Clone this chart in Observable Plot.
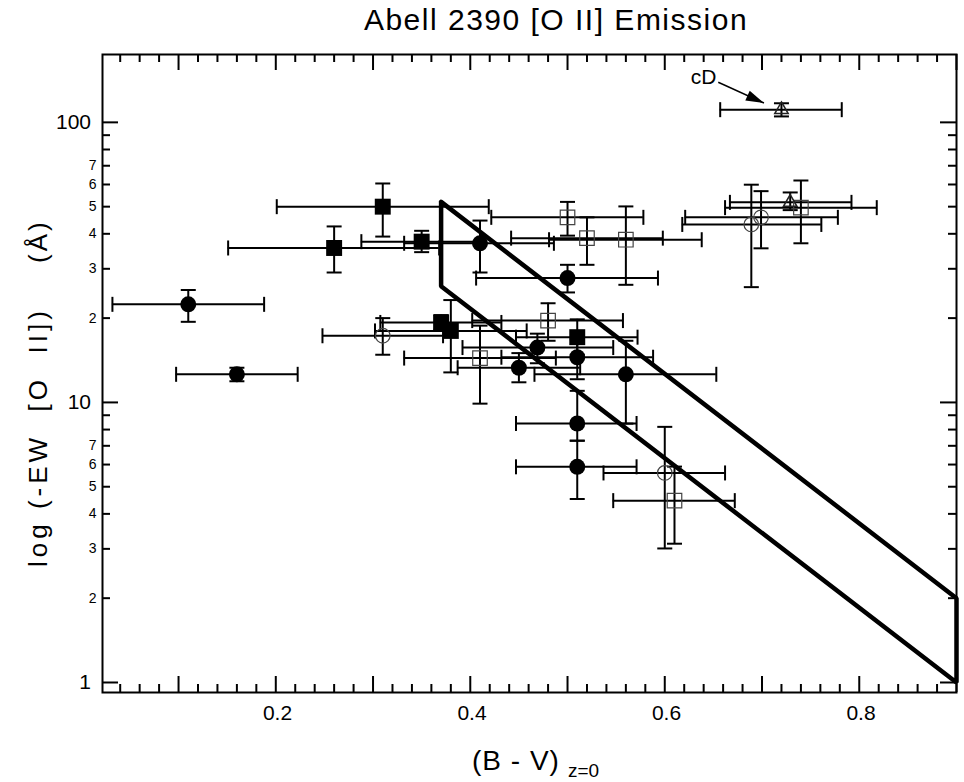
<!DOCTYPE html>
<html><head><meta charset="utf-8">
<script src="https://cdn.jsdelivr.net/npm/d3@7"></script>
<script src="https://cdn.jsdelivr.net/npm/@observablehq/plot@0.6"></script>
<style>body{margin:0;background:#fff;} svg{display:block}</style>
</head><body><div id="chart"></div>
<script>
// ---------- data ----------
// filled circles
const fcX   = [0.11, 0.16, 0.41, 0.50, 0.469, 0.51, 0.45, 0.56, 0.51, 0.51];
const fcY   = [22.4, 12.6, 37.0, 27.8, 15.7, 14.5, 13.3, 12.6, 8.41, 5.89];
const fcXlo = [0.032, 0.0975, 0.332, 0.406, 0.392, 0.432, 0.387, 0.466, 0.447, 0.447];
const fcXhi = [0.188, 0.2225, 0.486, 0.593, 0.547, 0.588, 0.513, 0.653, 0.571, 0.571];
const fcYlo = [19.4, 11.9, 29.1, 24.7, 13.8, 12.1, 11.8, 8.4, 7.3, 4.52];
const fcYhi = [25.2, 13.3, 44.6, 31.0, 17.6, 16.8, 15.0, 16.6, 11.0, 7.3];
// filled squares
const fsX   = [0.26, 0.31, 0.35, 0.37, 0.38, 0.51];
const fsY   = [35.6, 50.0, 37.5, 19.3, 18.0, 17.1];
const fsXlo = [0.151, 0.201, 0.288, 0.3075, 0.302, 0.447];
const fsXhi = [0.368, 0.419, 0.412, 0.432, 0.458, 0.572];
const fsYlo = [29.1, 39.1, 34.4, 18.2, 12.8, 14.8];
const fsYhi = [42.5, 60.5, 41.0, 20.5, 23.2, 19.8];
// open squares
const osX   = [0.50, 0.52, 0.56, 0.48, 0.41, 0.61, 0.74];
const osY   = [45.8, 38.6, 38.1, 19.6, 14.4, 4.46, 49.6];
const osXlo = [0.4216, 0.442, 0.481, 0.402, 0.332, 0.547, 0.662];
const osXhi = [0.578, 0.598, 0.638, 0.557, 0.488, 0.672, 0.818];
const osYlo = [39.4, 31.0, 26.3, 16.6, 9.9, 3.13, 37.0];
const osYhi = [52.0, 45.8, 50.1, 22.6, 18.8, 5.9, 62.0];
// open circles
const ocX   = [0.31, 0.60, 0.689, 0.699];
const ocY   = [17.3, 5.6, 43.2, 45.8];
const ocXlo = [0.248, 0.537, 0.618, 0.621];
const ocXhi = [0.372, 0.662, 0.761, 0.778];
const ocYlo = [14.8, 3.01, 25.8, 35.5];
const ocYhi = [20.0, 8.18, 59.9, 56.8];
// open triangles (second one is the cD galaxy)
const otX   = [0.729, 0.72];
const otY   = [51.8, 111];
const otXlo = [0.667, 0.657];
const otXhi = [0.792, 0.782];
const otYlo = [48.6, 105];
const otYhi = [56.2, 117];
// model region outline
const polyX = [0.37, 0.90, 0.90, 0.37, 0.37];
const polyY = [52, 2, 1, 26, 52];
// cD annotation
const cdText = ["cD"];
const cdTextX = [0.640];
const cdTextY = [145];
const cdArrowX1 = [0.655], cdArrowY1 = [139];
const cdArrowX2 = [0.702], cdArrowY2 = [117.3];
// ticks
const xMajor = [0.1, 0.2, 0.3, 0.4, 0.5, 0.6, 0.7, 0.8, 0.9];
const xMinor = [0.04,0.06,0.08,0.12,0.14,0.16,0.18,0.22,0.24,0.26,0.28,0.32,0.34,0.36,0.38,0.42,0.44,0.46,0.48,0.52,0.54,0.56,0.58,0.62,0.64,0.66,0.68,0.72,0.74,0.76,0.78,0.82,0.84,0.86,0.88];
const xLabelVals = [0.2, 0.4, 0.6, 0.8];
const xLabelText = ["0.2", "0.4", "0.6", "0.8"];
const yMajor = [1, 10, 100];
const yMinor = [2,3,4,5,6,7,8,9,20,30,40,50,60,70,80,90];
const yBigVals = [1, 10, 100];
const yBigText = ["1", "10", "100"];
const ySmallVals = [2,3,4,5,6,7,20,30,40,50,60,70];
const ySmallText = ["2","3","4","5","6","7","2","3","4","5","6","7"];

// ---------- build ----------
function rows(X, Y, XL, XH, YL, YH) {
  return X.map((x, i) => ({x, y: Y[i], xlo: XL[i], xhi: XH[i], ylo: YL[i], yhi: YH[i]}));
}
const fc = rows(fcX, fcY, fcXlo, fcXhi, fcYlo, fcYhi);
const fs = rows(fsX, fsY, fsXlo, fsXhi, fsYlo, fsYhi);
const os = rows(osX, osY, osXlo, osXhi, osYlo, osYhi);
const oc = rows(ocX, ocY, ocXlo, ocXhi, ocYlo, ocYhi);
const ot = rows(otX, otY, otXlo, otXhi, otYlo, otYhi);
const all = [...fc, ...fs, ...os, ...oc, ...ot];
const poly = polyX.map((x, i) => ({x, y: polyY[i]}));

const W = 964, H = 782, mL = 102, mR = 8, mT = 54, mB = 90;
const fW = W - mL - mR, fH = H - mT - mB;

const vcap = {draw(ctx, size) { const r = Math.sqrt(size / Math.PI); ctx.moveTo(0, -r); ctx.lineTo(0, r); }};
const hcap = {draw(ctx, size) { const r = Math.sqrt(size / Math.PI); ctx.moveTo(-r, 0); ctx.lineTo(r, 0); }};
const head = {draw(ctx, size) { const r = Math.sqrt(size / Math.PI); ctx.moveTo(0, 0); ctx.lineTo(-2 * r, -0.6 * r); ctx.lineTo(-2 * r, 0.6 * r); ctx.closePath(); }};

const LS_TICK = 3.5;
const font = "'Liberation Sans', Arial, Helvetica, sans-serif";

const svg = Plot.plot({
  width: W, height: H,
  marginLeft: mL, marginRight: mR, marginTop: mT, marginBottom: mB,
  style: {fontFamily: font, background: "white", overflow: "visible"},
  x: {domain: [0.0218, 0.9], axis: null},
  y: {type: "log", domain: [0.921, 174.7], axis: null},
  marks: [
    // axis ticks (inward)
    Plot.tickX(xMinor, {x: d => d, insetTop: fH - 8, strokeWidth: 2}),
    Plot.tickX(xMinor, {x: d => d, insetBottom: fH - 8, strokeWidth: 2}),
    Plot.tickX(xMajor, {x: d => d, insetTop: fH - 16, strokeWidth: 2}),
    Plot.tickX(xMajor, {x: d => d, insetBottom: fH - 16, strokeWidth: 2}),
    Plot.tickY(yMinor, {y: d => d, insetRight: fW - 8, strokeWidth: 2}),
    Plot.tickY(yMinor, {y: d => d, insetLeft: fW - 8, strokeWidth: 2}),
    Plot.tickY(yMajor, {y: d => d, insetRight: fW - 16, strokeWidth: 2}),
    Plot.tickY(yMajor, {y: d => d, insetLeft: fW - 16, strokeWidth: 2}),
    Plot.frame({stroke: "black", strokeWidth: 2}),
    // tick labels
    Plot.text(xLabelVals, {x: d => d, text: (d, i) => xLabelText[i], frameAnchor: "bottom", dy: 27, dx: LS_TICK / 2, fontSize: 21, ariaLabel: "xticklabels"}),
    Plot.text(yBigVals, {y: d => d, text: (d, i) => yBigText[i], frameAnchor: "left", textAnchor: "end", dx: -15 + LS_TICK, fontSize: 21, ariaLabel: "yticklabels"}),
    Plot.text(ySmallVals, {y: d => d, text: (d, i) => ySmallText[i], frameAnchor: "left", textAnchor: "end", dx: -6, fontSize: 14}),
    // model region
    Plot.line(poly, {x: "x", y: "y", stroke: "black", strokeWidth: 4.5, strokeLinejoin: "miter"}),
    // error bars
    Plot.ruleY(all, {y: "y", x1: "xlo", x2: "xhi", stroke: "black", strokeWidth: 2}),
    Plot.ruleX(all, {x: "x", y1: "ylo", y2: "yhi", stroke: "black", strokeWidth: 2}),
    Plot.dot(all, {x: "xlo", y: "y", symbol: vcap, r: 7.5, fill: "none", stroke: "black", strokeWidth: 2}),
    Plot.dot(all, {x: "xhi", y: "y", symbol: vcap, r: 7.5, fill: "none", stroke: "black", strokeWidth: 2}),
    Plot.dot(all, {x: "x", y: "ylo", symbol: hcap, r: 7.5, fill: "none", stroke: "black", strokeWidth: 2}),
    Plot.dot(all, {x: "x", y: "yhi", symbol: hcap, r: 7.5, fill: "none", stroke: "black", strokeWidth: 2}),
    // markers
    Plot.dot(fc, {x: "x", y: "y", r: 8, fill: "black", stroke: "none"}),
    Plot.dot(fs, {x: "x", y: "y", symbol: "square", r: 9, fill: "black", stroke: "none"}),
    Plot.dot(os, {x: "x", y: "y", symbol: "square", r: 8.2, fill: "none", stroke: "#444", strokeWidth: 1.2}),
    Plot.dot(oc, {x: "x", y: "y", r: 7.3, fill: "none", stroke: "#444", strokeWidth: 1.2}),
    Plot.dot(ot, {x: "x", y: "y", symbol: "triangle", r: 5, fill: "none", stroke: "#222", strokeWidth: 1.5}),
    // cD annotation
    Plot.link(cdText, {x1: (d, i) => cdArrowX1[i], y1: (d, i) => cdArrowY1[i], x2: (d, i) => cdArrowX2[i], y2: (d, i) => cdArrowY2[i], stroke: "black", strokeWidth: 1.5}),
    Plot.dot(cdText, {x: (d, i) => cdArrowX2[i], y: (d, i) => cdArrowY2[i], symbol: head, r: 9, rotate: 24, fill: "black", stroke: "none"}),
    Plot.text(cdText, {x: (d, i) => cdTextX[i], y: (d, i) => cdTextY[i], text: d => d, fontSize: 21})
  ]
});

const s = d3.select(svg);
s.selectAll('g[aria-label="xticklabels"] text, g[aria-label="yticklabels"] text').attr("letter-spacing", LS_TICK + "px");
s.append("text").attr("x", 556).attr("y", 30).attr("text-anchor", "middle")
  .attr("font-size", 30).attr("letter-spacing", "1.5px").attr("font-family", font).attr("fill", "black")
  .text("Abell 2390 [O II] Emission");
s.append("text").attr("x", 472).attr("y", 770).attr("text-anchor", "start")
  .attr("font-size", 28).attr("letter-spacing", "1px").attr("font-family", font).attr("fill", "black")
  .text("(B - V)");
s.append("text").attr("x", 568).attr("y", 777).attr("text-anchor", "start")
  .attr("font-size", 19).attr("font-family", font).attr("fill", "black")
  .text("z=0");
s.append("text").attr("transform", "translate(47,567) rotate(-90)").attr("text-anchor", "start")
  .attr("font-size", 26).attr("letter-spacing", "4px").attr("font-family", font).attr("fill", "black")
  .attr("xml:space", "preserve").style("white-space", "pre")
  .text("log (-EW  [O  II])");
s.append("text").attr("transform", "translate(47,263) rotate(-90)").attr("text-anchor", "start")
  .attr("font-size", 26).attr("letter-spacing", "3px").attr("font-family", font).attr("fill", "black")
  .text("(Å)");

document.getElementById("chart").appendChild(svg);
</script>
</body></html>
